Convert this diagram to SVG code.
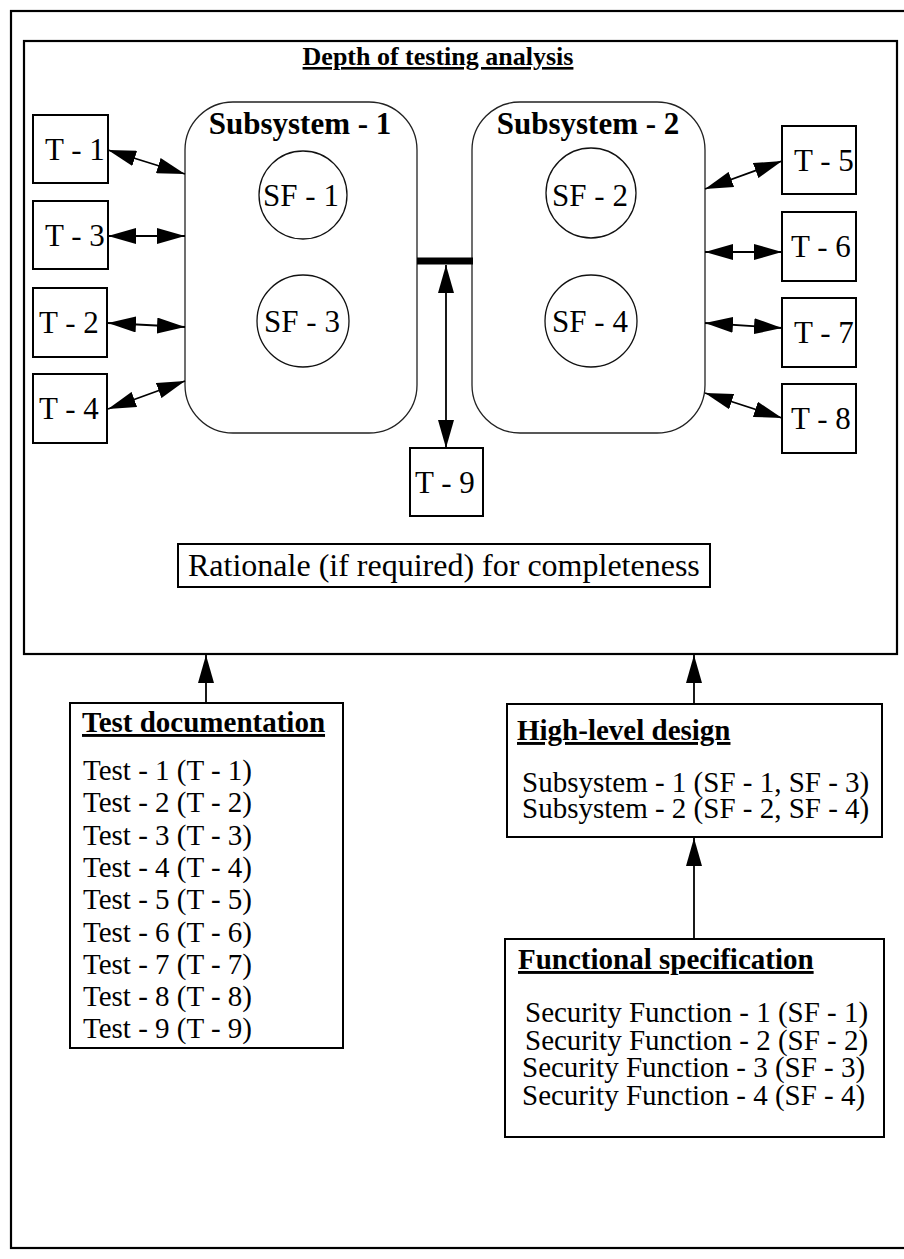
<svg xmlns="http://www.w3.org/2000/svg" width="904" height="1259" viewBox="0 0 904 1259">
<style>
text{font-family:"Liberation Serif","Times New Roman",serif;fill:#000}
.frame{fill:none;stroke:#000;stroke-width:2.2}
.box{fill:#fff;stroke:#000;stroke-width:2}
.sub{fill:#fff;stroke:#222;stroke-width:1.3}
.circ{fill:#fff;stroke:#111;stroke-width:1.3}
.big{font-size:31px}
.body{font-size:29px}
.hd{font-size:29px;font-weight:bold;text-decoration:underline}
.conn{stroke:#000;stroke-width:1.8;fill:none}
</style>
<defs>
<marker id="ah" viewBox="0 0 28 16" refX="28" refY="8" markerWidth="28" markerHeight="16" markerUnits="userSpaceOnUse" orient="auto-start-reverse"><path d="M0,0 L28,8 L0,16 z" fill="#000"/></marker>
</defs>
<rect width="904" height="1259" fill="#fff"/>
<g id="outer-frame"><rect class="frame" x="11" y="11" width="900" height="1237"/></g>
<g id="depth-analysis">
<rect class="frame" x="24" y="41" width="873" height="613"/>
<text x="438" y="65" text-anchor="middle" style="font-size:26px;font-weight:bold;text-decoration:underline">Depth of testing analysis</text>
</g>
<g id="subsystem-1">
<rect class="sub" x="185" y="102" width="232" height="331" rx="48"/>
<text class="big" x="300" y="134" text-anchor="middle" font-weight="bold">Subsystem - 1</text>
</g>
<g id="subsystem-2">
<rect class="sub" x="472" y="102" width="233" height="331" rx="48"/>
<text class="big" x="588" y="134" text-anchor="middle" font-weight="bold">Subsystem - 2</text>
</g>
<g id="sf-1"><circle class="circ" cx="303" cy="195" r="44"/><text class="big" x="301" y="206" text-anchor="middle">SF - 1</text></g>
<g id="sf-2"><circle class="circ" cx="591" cy="193" r="45"/><text class="big" x="590" y="206" text-anchor="middle">SF - 2</text></g>
<g id="sf-3"><circle class="circ" cx="303" cy="321" r="46"/><text class="big" x="302" y="332" text-anchor="middle">SF - 3</text></g>
<g id="sf-4"><circle class="circ" cx="591" cy="321" r="46"/><text class="big" x="590" y="332" text-anchor="middle">SF - 4</text></g>
<g id="t-1"><rect class="box" x="33" y="115" width="75" height="68"/><text class="big" x="45" y="160">T - 1</text></g>
<g id="t-3"><rect class="box" x="33" y="201" width="75" height="68"/><text class="big" x="45" y="246">T - 3</text></g>
<g id="t-2"><rect class="box" x="33" y="288" width="74" height="69"/><text class="big" x="39" y="333">T - 2</text></g>
<g id="t-4"><rect class="box" x="33" y="374" width="74" height="69"/><text class="big" x="39" y="419">T - 4</text></g>
<g id="t-5"><rect class="box" x="782" y="126" width="74" height="68"/><text class="big" x="794" y="171">T - 5</text></g>
<g id="t-6"><rect class="box" x="782" y="212" width="74" height="69"/><text class="big" x="791" y="257">T - 6</text></g>
<g id="t-7"><rect class="box" x="782" y="298" width="74" height="69"/><text class="big" x="794" y="343">T - 7</text></g>
<g id="t-8"><rect class="box" x="782" y="384" width="74" height="69"/><text class="big" x="791" y="429">T - 8</text></g>
<g id="t-9"><rect class="box" x="410" y="448" width="73" height="68"/><text class="big" x="415" y="493">T - 9</text></g>
<g id="rationale"><rect class="box" x="178" y="544" width="532" height="43"/><text style="font-size:32px" x="188" y="576">Rationale (if required) for completeness</text></g>
<g id="test-documentation">
<rect class="box" x="70" y="703" width="273" height="345"/>
<text class="hd" x="82" y="732">Test documentation</text>
<text class="body" x="83" y="780">Test - 1 (T - 1)</text>
<text class="body" x="83" y="812">Test - 2 (T - 2)</text>
<text class="body" x="83" y="845">Test - 3 (T - 3)</text>
<text class="body" x="83" y="877">Test - 4 (T - 4)</text>
<text class="body" x="83" y="909">Test - 5 (T - 5)</text>
<text class="body" x="83" y="942">Test - 6 (T - 6)</text>
<text class="body" x="83" y="974">Test - 7 (T - 7)</text>
<text class="body" x="83" y="1006">Test - 8 (T - 8)</text>
<text class="body" x="83" y="1038">Test - 9 (T - 9)</text>
</g>
<g id="high-level-design">
<rect class="box" x="507" y="704" width="375" height="133"/>
<text class="hd" x="517" y="740">High-level design</text>
<text class="body" x="522" y="792">Subsystem - 1 (SF - 1, SF - 3)</text>
<text class="body" x="522" y="818">Subsystem - 2 (SF - 2, SF - 4)</text>
</g>
<g id="functional-specification">
<rect class="box" x="505" y="939" width="379" height="198"/>
<text class="hd" x="518" y="969">Functional specification</text>
<text class="body" x="525" y="1022">Security Function - 1 (SF - 1)</text>
<text class="body" x="525" y="1050">Security Function - 2 (SF - 2)</text>
<text class="body" x="522" y="1077">Security Function - 3 (SF - 3)</text>
<text class="body" x="522" y="1105">Security Function - 4 (SF - 4)</text>
</g>
<g id="connectors">
<line x1="417" y1="261" x2="473" y2="261" stroke="#000" stroke-width="7"/>
<line class="conn" x1="108" y1="150" x2="185" y2="174" marker-start="url(#ah)" marker-end="url(#ah)"/>
<line class="conn" x1="108" y1="236" x2="185" y2="236" marker-start="url(#ah)" marker-end="url(#ah)"/>
<line class="conn" x1="108" y1="323" x2="185" y2="327" marker-start="url(#ah)" marker-end="url(#ah)"/>
<line class="conn" x1="108" y1="409" x2="185" y2="381" marker-start="url(#ah)" marker-end="url(#ah)"/>
<line class="conn" x1="705" y1="189" x2="782" y2="161" marker-start="url(#ah)" marker-end="url(#ah)"/>
<line class="conn" x1="705" y1="252" x2="782" y2="252" marker-start="url(#ah)" marker-end="url(#ah)"/>
<line class="conn" x1="705" y1="323" x2="782" y2="328" marker-start="url(#ah)" marker-end="url(#ah)"/>
<line class="conn" x1="705" y1="393" x2="782" y2="418" marker-start="url(#ah)" marker-end="url(#ah)"/>
<line class="conn" x1="446" y1="265" x2="446" y2="448" marker-start="url(#ah)" marker-end="url(#ah)"/>
<line class="conn" x1="206" y1="703" x2="206" y2="655" marker-end="url(#ah)"/>
<line class="conn" x1="694" y1="704" x2="694" y2="655" marker-end="url(#ah)"/>
<line class="conn" x1="694" y1="939" x2="694" y2="838" marker-end="url(#ah)"/>
</g>
</svg>
